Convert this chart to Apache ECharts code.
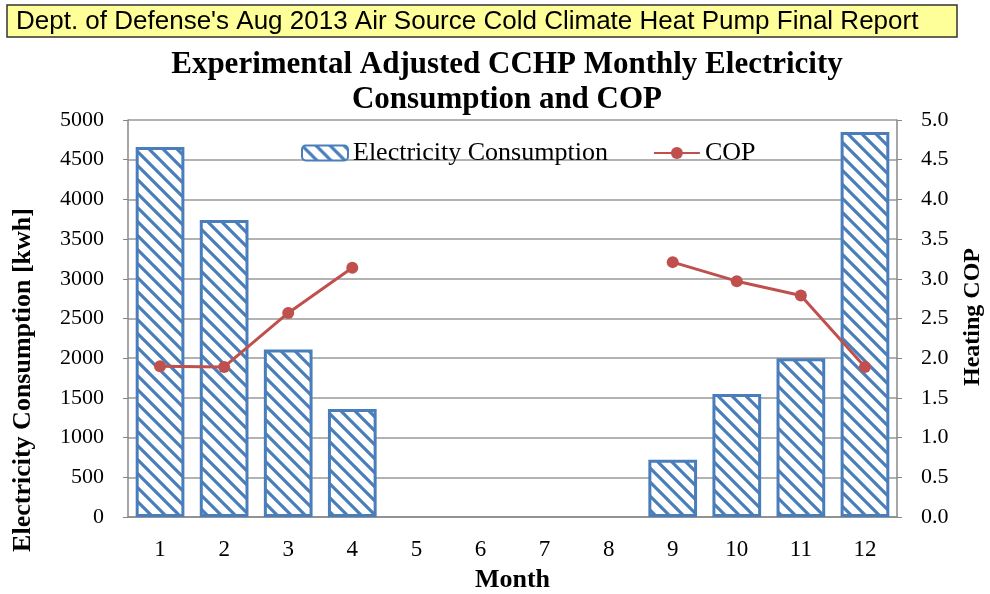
<!DOCTYPE html>
<html><head><meta charset="utf-8">
<script src="https://cdn.jsdelivr.net/npm/echarts@6/dist/echarts.min.js"></script>
<style>html,body{margin:0;padding:0;background:#fff}#c{width:990px;height:594px}</style>
</head><body><div id="c"></div>
<script>
const months = ['1','2','3','4','5','6','7','8','9','10','11','12'];
const electricity = [4660, 3740, 2110, 1360, null, null, null, null, 720, 1550, 2000, 4850];
const cop = [1.90, 1.89, 2.57, 3.14, null, null, null, null, 3.21, 2.97, 2.79, 1.89];
const leftTicks = [0, 5000, 500];
const rightTicks = [0, 5, 0.5];

function hatch() {
  const s = 14, c = document.createElement('canvas');
  c.width = s; c.height = s;
  const g = c.getContext('2d');
  g.fillStyle = '#fff'; g.fillRect(0, 0, s, s);
  g.strokeStyle = '#4a7ebb'; g.lineWidth = 3.2;
  g.beginPath();
  g.moveTo(-s, 0); g.lineTo(s, 2 * s);
  g.moveTo(0, -s); g.lineTo(2 * s, s);
  g.moveTo(-s, -s); g.lineTo(2 * s, 2 * s);
  g.stroke();
  return c;
}
const pat = { image: hatch(), repeat: 'repeat' };
const serif = '"Liberation Serif", "Times New Roman", serif';
const chart = echarts.init(document.getElementById('c'), null, { renderer: 'canvas' });
chart.setOption({
  animation: false,
  backgroundColor: '#fff',
  graphic: [
    { type: 'rect', shape: { x: 7, y: 5, width: 950, height: 32 }, style: { fill: '#ffff99', stroke: '#333', lineWidth: 1.5 } },
    { type: 'text', x: 16, y: 22, style: { text: "Dept. of Defense's Aug 2013 Air Source Cold Climate Heat Pump Final Report", font: '26px "Liberation Sans", sans-serif', fill: '#000', verticalAlign: 'middle' } },
    { type: 'text', x: 23, y: 380, rotation: Math.PI / 2, style: { text: 'Electricity Consumption [kwh]', font: 'bold 26px ' + serif, fill: '#000', align: 'center', verticalAlign: 'middle' } },
    { type: 'text', x: 973, y: 317, rotation: Math.PI / 2, style: { text: 'Heating COP', font: 'bold 24px ' + serif, fill: '#000', align: 'center', verticalAlign: 'middle' } }
  ],
  title: {
    text: 'Experimental Adjusted CCHP Monthly Electricity\nConsumption and COP',
    left: 502, top: 42, textAlign: 'center',
    textStyle: { fontFamily: serif, fontWeight: 'bold', fontSize: 31, lineHeight: 35, color: '#000' }
  },
  legend: {
    top: 135, left: 296,
    itemGap: 45, itemWidth: 46, itemHeight: 15,
    textStyle: { fontFamily: serif, fontSize: 26, color: '#000' },
    data: ['Electricity Consumption', 'COP']
  },
  grid: { left: 128, right: 93, top: 120, bottom: 77, containLabel: false, outerBoundsMode: 'none' },
  xAxis: {
    type: 'category', data: months,
    name: 'Month', nameLocation: 'middle', nameGap: 50,
    nameTextStyle: { fontFamily: serif, fontWeight: 'bold', fontSize: 26, color: '#000' },
    axisLine: { lineStyle: { color: '#888', width: 1.5 } },
    axisTick: { show: false },
    axisLabel: { fontFamily: serif, fontSize: 23, color: '#000', margin: 21 }
  },
  yAxis: [
    {
      type: 'value', min: leftTicks[0], max: leftTicks[1], interval: leftTicks[2],
      axisLine: { show: true, lineStyle: { color: '#888', width: 1.5 } },
      axisTick: { show: true, length: 5, lineStyle: { color: '#888' } },
      axisLabel: { fontFamily: serif, fontSize: 22, color: '#000', margin: 24, formatter: v => String(v) },
      splitLine: { lineStyle: { color: '#999', width: 1.5 } }
    },
    {
      type: 'value', min: rightTicks[0], max: rightTicks[1], interval: rightTicks[2],
      axisLine: { show: true, lineStyle: { color: '#888', width: 1.5 } },
      axisTick: { show: true, length: 5, lineStyle: { color: '#888' } },
      axisLabel: { fontFamily: serif, fontSize: 22, color: '#000', margin: 24, formatter: v => v.toFixed(1) },
      splitLine: { show: false }
    }
  ],
  series: [
    {
      name: 'Electricity Consumption', type: 'bar', data: electricity,
      barCategoryGap: '24%',
      itemStyle: { color: pat, borderColor: '#4a7ebb', borderWidth: 3 }
    },
    {
      name: 'COP', type: 'line', yAxisIndex: 1, data: cop,
      connectNulls: false, symbol: 'circle', symbolSize: 12,
      lineStyle: { color: '#c0504d', width: 3 },
      itemStyle: { color: '#c0504d' }
    }
  ]
});
</script></body></html>
